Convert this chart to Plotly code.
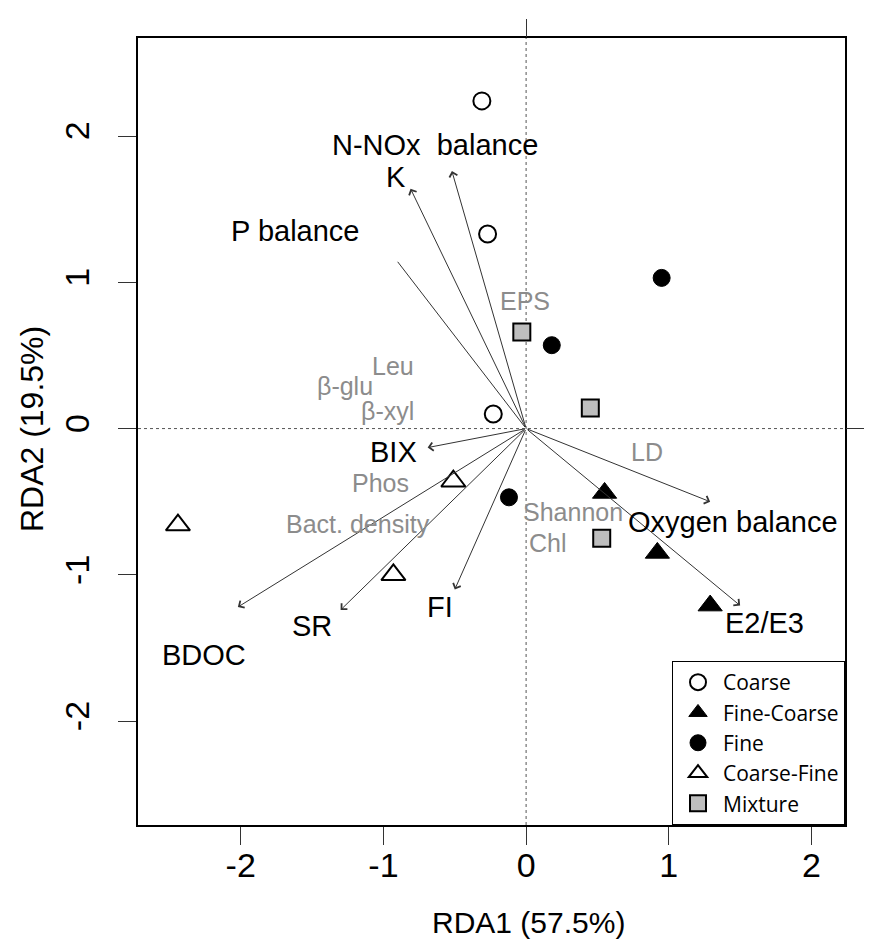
import plotly.graph_objects as go

# ---- Site scores (samples) ----
coarse_x = [-0.31, -0.27, -0.23]
coarse_y = [2.24, 1.33, 0.10]
fine_x = [0.95, 0.18, -0.12]
fine_y = [1.03, 0.57, -0.47]
finecoarse_x = [0.55, 0.92, 1.29]
finecoarse_y = [-0.44, -0.85, -1.21]
coarsefine_x = [-2.44, -0.51, -0.93]
coarsefine_y = [-0.66, -0.36, -1.00]
mixture_x = [-0.03, 0.45, 0.53]
mixture_y = [0.66, 0.14, -0.75]

# ---- Environmental vectors (arrow tips) ----
vec_names = ["N-NOx balance", "K", "P balance", "BIX", "BDOC", "SR", "FI", "Oxygen balance", "E2/E3"]
vec_x = [-0.52, -0.81, -0.90, -0.69, -2.02, -1.30, -0.50, 1.29, 1.50]
vec_y = [1.76, 1.64, 1.14, -0.13, -1.22, -1.24, -1.10, -0.50, -1.21]
vec_head = [True, True, False, True, True, True, True, True, True]

# ---- Labels ----
black_labels = ["N-NOx  balance", "K", "P balance", "BIX", "BDOC", "SR", "FI", "Oxygen balance", "E2/E3"]
black_lx = [-0.64, -0.91, -1.62, -0.93, -2.26, -1.50, -0.60, 1.45, 1.67]
black_ly = [1.94, 1.72, 1.35, -0.16, -1.55, -1.35, -1.22, -0.64, -1.33]

gray_labels = ["EPS", "Leu", "β-glu", "β-xyl", "Phos", "Bact. density", "LD", "Shannon", "Chl"]
gray_lx = [-0.01, -0.93, -1.27, -0.97, -1.02, -1.18, 0.85, 0.33, 0.15]
gray_ly = [0.87, 0.43, 0.29, 0.12, -0.37, -0.65, -0.16, -0.57, -0.78]

x_ticks = [-2, -1, 0, 1, 2]
y_ticks = [-2, -1, 0, 1, 2]
x_range = [-2.72, 2.235]
y_range = [-2.71, 2.67]

FONT = "Liberation Sans, Arial, sans-serif"

fig = go.Figure()

# reference lines
fig.add_shape(type="line", x0=0, x1=0, y0=y_range[0], y1=y_range[1], xref="x", yref="y",
              line=dict(color="#555555", width=1, dash="dot"), layer="below")
fig.add_shape(type="line", x0=x_range[0], x1=x_range[1], y0=0, y1=0, xref="x", yref="y",
              line=dict(color="#555555", width=1, dash="dot"), layer="below")

# arrows
for nx, ny, head in zip(vec_x, vec_y, vec_head):
    fig.add_annotation(x=nx, y=ny, ax=0, ay=0, xref="x", yref="y", axref="x", ayref="y",
                       text="", showarrow=True, arrowhead=4 if head else 0,
                       arrowsize=1.6, arrowwidth=1, arrowcolor="#333333", standoff=0, startstandoff=0)

mk_line = dict(color="black", width=2)
fig.add_trace(go.Scatter(x=coarse_x, y=coarse_y, mode="markers", name="Coarse",
                         marker=dict(symbol="circle-open", size=17, color="black", line=mk_line)))
fig.add_trace(go.Scatter(x=finecoarse_x, y=finecoarse_y, mode="markers", name="Fine-Coarse",
                         marker=dict(symbol="triangle-up", size=21, color="black", line=dict(color="black", width=1))))
fig.add_trace(go.Scatter(x=fine_x, y=fine_y, mode="markers", name="Fine",
                         marker=dict(symbol="circle", size=17, color="black", line=dict(color="black", width=1))))
fig.add_trace(go.Scatter(x=coarsefine_x, y=coarsefine_y, mode="markers", name="Coarse-Fine",
                         marker=dict(symbol="triangle-up-open", size=21, color="black", line=mk_line)))
fig.add_trace(go.Scatter(x=mixture_x, y=mixture_y, mode="markers", name="Mixture",
                         marker=dict(symbol="square", size=17, color="#bebebe", line=mk_line)))

for t, lx, ly in zip(black_labels, black_lx, black_ly):
    fig.add_annotation(x=lx, y=ly, text=t, showarrow=False, xref="x", yref="y",
                       font=dict(family=FONT, size=29, color="black"))
for t, lx, ly in zip(gray_labels, gray_lx, gray_ly):
    fig.add_annotation(x=lx, y=ly, text=t, showarrow=False, xref="x", yref="y",
                       font=dict(family=FONT, size=25, color="#8c8c8c"))

# axis titles
fig.add_annotation(x=0.552, y=-0.1245, xref="paper", yref="paper", text="RDA1 (57.5%)",
                   showarrow=False, xanchor="center", yanchor="middle",
                   font=dict(family=FONT, size=30, color="black"))
fig.add_annotation(x=-0.150, y=0.503, xref="paper", yref="paper", text="RDA2 (19.5%)",
                   showarrow=False, xanchor="center", yanchor="middle", textangle=-90,
                   font=dict(family=FONT, size=32, color="black"))

# secondary axes (top / right) showing only 0
fig.add_trace(go.Scatter(x=[0], y=[0], xaxis="x2", yaxis="y2", mode="markers",
                         marker=dict(opacity=0), showlegend=False, hoverinfo="skip"))

fig.update_layout(
    width=887, height=944,
    margin=dict(l=130, r=50, t=30, b=127),
    plot_bgcolor="white", paper_bgcolor="white",
    font=dict(family=FONT, color="black"),
    xaxis=dict(range=x_range, tickvals=x_ticks, ticktext=[str(v) for v in x_ticks],
               showgrid=False, zeroline=False, showline=True, linecolor="black", linewidth=1.5,
               mirror=True, ticks="outside", ticklen=18, tickwidth=1, tickcolor="#333333",
               tickfont=dict(size=34), ticklabelstandoff=-9, automargin=False),
    yaxis=dict(range=y_range, tickvals=y_ticks, ticktext=[str(v) for v in y_ticks],
               showgrid=False, zeroline=False, showline=True, linecolor="black", linewidth=1.5,
               mirror=True, ticks="outside", ticklen=18, tickwidth=1, tickcolor="#333333",
               tickangle=-90, tickfont=dict(size=34), ticklabelstandoff=16, automargin=False),
    xaxis2=dict(range=x_range, overlaying="x", side="top", tickvals=[0], showticklabels=False,
                showgrid=False, zeroline=False, ticks="outside", ticklen=18, tickcolor="#333333",
                automargin=False),
    yaxis2=dict(range=y_range, overlaying="y", side="right", tickvals=[0], ticktext=["0"],
                showgrid=False, zeroline=False, ticks="outside", ticklen=18, tickcolor="#333333",
                tickangle=-90, tickfont=dict(size=34), ticklabelstandoff=14, automargin=False),
    legend=dict(x=1, y=0, xanchor="right", yanchor="bottom", bgcolor="white",
                bordercolor="black", borderwidth=1, font=dict(family="Open Sans, sans-serif", size=21),
                tracegroupgap=0, itemsizing="trace", itemwidth=40),
    showlegend=True,
)

fig.write_html("out.html")
